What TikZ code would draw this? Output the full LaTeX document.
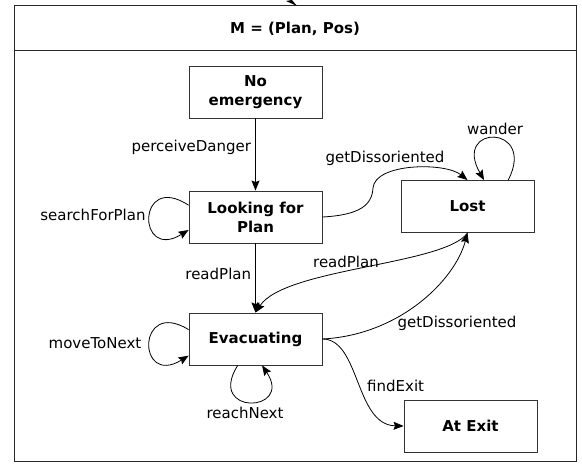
\documentclass[tikz,border=0pt]{standalone}
\usepackage{fontspec}
\setmainfont{DejaVu Sans}
\usetikzlibrary{arrows.meta}
\begin{document}
\begin{tikzpicture}[x=1pt,y=-1pt,
  state/.style={draw=black!80, line width=0.9pt, rectangle, minimum width=133pt, minimum height=52pt,
    inner sep=2pt, align=center, font=\fontsize{15}{19}\selectfont\bfseries},
  lbl/.style={font=\fontsize{15}{18}\selectfont, inner sep=1pt},
  tr/.style={draw=black, line width=0.8pt, -{Stealth[length=10pt,width=8pt,inset=1.5pt]}}]
\useasboundingbox (0,0) rectangle (582,468);
\fill[white] (0,0) rectangle (582,468);
% frame
\draw[black!85, line width=0.9pt] (14,5) rectangle (576,461);
\draw[black!85, line width=0.9pt] (14,50) -- (576,50);
\node[font=\fontsize{15}{18}\selectfont\bfseries] (title) at (295,29) {M = (Plan, Pos)};
% incoming arrowhead at top
\coordinate (inA) at (286,1);
\coordinate (inB) at (297,6);
\coordinate (inC) at (292,0);
\fill (inA) -- (inB) -- (inC) -- cycle;
% states
\node[state] (noem) at (255.5,92) {No\\emergency};
\node[state] (lfp) at (255.5,217) {Looking for\\Plan};
\node[state] (lost) at (467.5,206.5) {Lost};
\node[state] (evac) at (255.5,339) {Evacuating};
\node[state] (exit) at (470.5,426) {At Exit};
% transitions
\draw[tr] (noem) -- node[lbl, pos=0.4, left=3pt] {perceiveDanger} (lfp);
\draw[tr] (lfp.170) .. controls +(-52,-34) and +(-52,32) .. (lfp.191);
\node[lbl] (l1) at (93,215) {searchForPlan};
\draw[tr] (lfp.east) .. controls (360,215) and (372,205) .. (373,188)
  .. controls (375,163) and (445,162) .. (lost.north);
\node[lbl] (l2) at (385,158) {getDissoriented};
\draw[tr] (lost.33) .. controls (537,124) and (452,124) .. (lost.58);
\node[lbl] (l3) at (495,129) {wander};
\draw[tr] (lfp) -- node[lbl, pos=0.44, left=3pt] {readPlan} (evac);
\draw[tr] (lost.south) .. controls (445,265) and (285,268) .. (evac.north);
\node[lbl] (l4) at (346,262) {readPlan};
\draw[tr] (evac.east) .. controls (400,335) and (455,280) .. (lost.south);
\node[lbl] (l5) at (457,323) {getDissoriented};
\draw[tr] (evac.172) .. controls +(-52,-32) and +(-52,32) .. (evac.194);
\node[lbl] (l6) at (95,343) {moveToNext};
\draw[tr] (evac.236) .. controls (206,416) and (294,413) .. (evac.284);
\node[lbl] (l7) at (245,413) {reachNext};
\draw[tr] (evac.east) .. controls (360,339) and (355,425) .. (exit.west);
\node[lbl, anchor=west] (l8) at (366,386) {findExit};
\end{tikzpicture}
\end{document}
